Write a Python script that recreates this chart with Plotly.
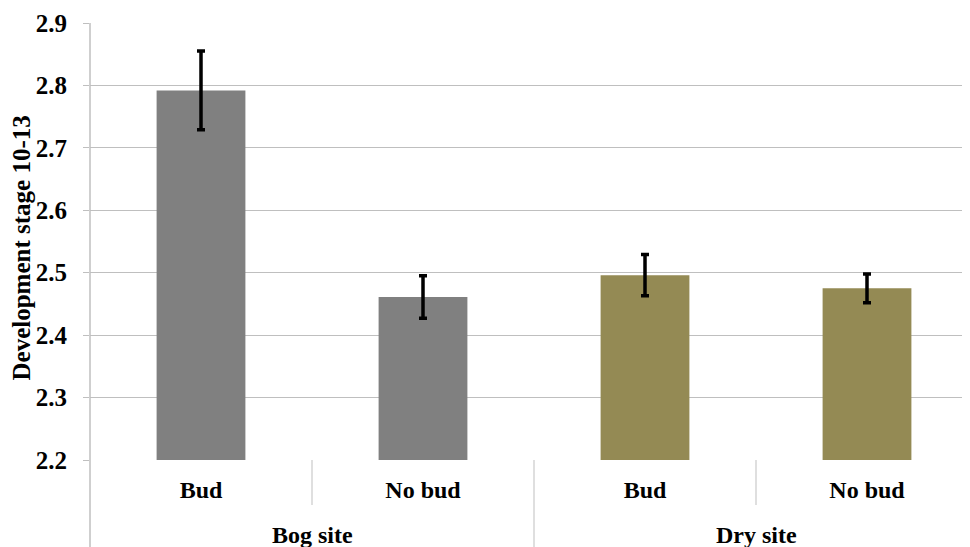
import plotly.graph_objects as go

sites = ["Bog site", "Bog site", "Dry site", "Dry site"]
buds = ["Bud", "No bud", "Bud", "No bud"]
means = [2.792, 2.461, 2.496, 2.475]
errors = [0.063, 0.034, 0.033, 0.023]
y_ticks = [2.2, 2.3, 2.4, 2.5, 2.6, 2.7, 2.8, 2.9]

site_colors = {"Bog site": "#808080", "Dry site": "#948A54"}
FONT = "Liberation Serif"
GRID = "#BFBFBF"

# page body has an 8px margin, so the figure is drawn 8px smaller
W, H = 962, 539
ML, MR, MT, MB = 82, 0, 15, 87
plot_w = W - ML - MR
plot_h = H - MT - MB
cat_px = 222.0
xmin = -0.5
xmax = xmin + plot_w / cat_px

idx = list(range(len(buds)))

fig = go.Figure()
fig.add_trace(go.Bar(
    x=idx, y=[m - y_ticks[0] for m in means], base=y_ticks[0],
    marker=dict(color=[site_colors[s] for s in sites], line=dict(width=0)),
    width=0.4,
    error_y=dict(type="data", array=errors, color="black", thickness=3.5, width=4),
    hoverinfo="skip",
))

def px_x(v):
    return (v - xmin) / (xmax - xmin)

shapes = []
shapes.append(dict(type="line", xref="paper", yref="paper", x0=0, x1=0,
                   y0=-MB / plot_h, y1=1, line=dict(color=GRID, width=1.5)))
for i in range(1, len(idx)):
    xb = px_x(i - 0.5)
    if sites[i] != sites[i - 1]:
        y0 = -MB / plot_h
    else:
        y0 = -45 / plot_h
    shapes.append(dict(type="line", xref="paper", yref="paper", x0=xb, x1=xb,
                       y0=y0, y1=0, line=dict(color=GRID, width=1)))

annotations = []
groups = []
for s in sites:
    if s not in groups:
        groups.append(s)
for g in groups:
    members = [i for i, s in enumerate(sites) if s == g]
    center = sum(members) / len(members)
    annotations.append(dict(text="<b>%s</b>" % g, xref="x", yref="paper",
                            x=center, y=-75 / plot_h, showarrow=False,
                            xanchor="center", yanchor="middle",
                            font=dict(family=FONT, size=24, color="black")))
annotations.append(dict(text="<b>Development stage 10-13</b>", xref="paper", yref="paper",
                        x=(13 - ML) / plot_w, y=0.5 - 7 / plot_h, showarrow=False, textangle=-90,
                        xanchor="center", yanchor="middle",
                        font=dict(family=FONT, size=25, color="black")))

fig.update_layout(
    width=W, height=H,
    margin=dict(l=ML, r=MR, t=MT, b=MB),
    paper_bgcolor="white", plot_bgcolor="white",
    showlegend=False,
    shapes=shapes, annotations=annotations,
    xaxis=dict(range=[xmin, xmax], tickmode="array", tickvals=idx,
               ticktext=["<b>%s</b>" % b for b in buds],
               showgrid=False, zeroline=False, showline=False, ticks="",
               ticklabelstandoff=13,
               tickfont=dict(family=FONT, size=24, color="black")),
    yaxis=dict(range=[y_ticks[0], y_ticks[-1]], tickmode="array", tickvals=y_ticks,
               ticktext=["<b>%.1f</b>" % v for v in y_ticks],
               showgrid=True, gridcolor=GRID, gridwidth=1, zeroline=False,
               showline=False, ticks="outside", ticklen=6, tickcolor=GRID,
               ticklabelstandoff=11,
               tickfont=dict(family=FONT, size=25, color="black")),
)

fig.write_html("out.html")
